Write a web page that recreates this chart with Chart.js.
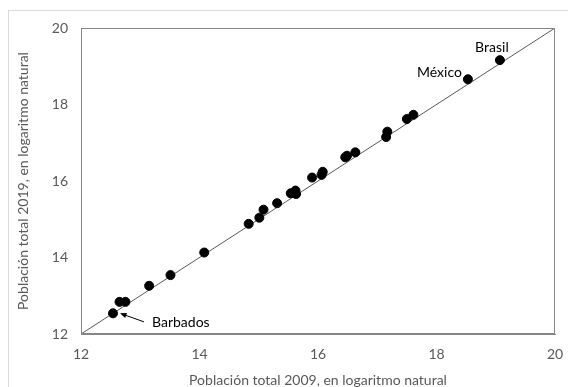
<!DOCTYPE html>
<html>
<head>
<meta charset="utf-8">
<script src="https://cdn.jsdelivr.net/npm/chart.js@4"></script>
<style>
    html, body { margin: 0; padding: 0; background: #fff; overflow: hidden; }
    #wrap { position: relative; width: 568px; height: 387px; }
    #frame { position: absolute; left: 8px; top: 10px; width: 600px; height: 420px; border: 1px solid #d9d9d9; }
    canvas { position: absolute; left: 0; top: 0; }
</style>
</head>
<body>
<div id="wrap">
    <div id="frame"></div>
    <canvas id="chart" width="568" height="387"></canvas>
</div>
<script>
// ln(poblacion total) por pais
const pop2009 = [12.54, 12.65, 12.75, 13.15, 13.51, 14.08, 14.83, 15.01, 15.08, 15.31,
                 15.54, 15.62, 15.63, 15.90, 16.06, 16.08, 16.46, 16.49, 16.63, 17.15,
                 17.17, 17.50, 17.61, 18.53, 19.07];
const pop2019 = [12.54, 12.84, 12.84, 13.26, 13.54, 14.13, 14.88, 15.04, 15.25, 15.42,
                 15.68, 15.75, 15.66, 16.09, 16.16, 16.24, 16.62, 16.66, 16.75, 17.15,
                 17.29, 17.62, 17.73, 18.66, 19.16];
const countryLabels = ["Barbados", "", "", "", "", "", "", "", "", "",
                       "", "", "", "", "", "", "", "", "", "",
                       "", "", "", "México", "Brasil"];
const refLine = [12, 20];
const axisTicks = [12, 14, 16, 18, 20];

const font = "Lato";
const grey = "#595959";

const points = pop2009.map((x, i) => ({ x, y: pop2019[i] }));

// marco completo del area de trazado
const frameBox = {
    id: "frameBox",
    afterDatasetsDraw(chart) {
        const { ctx, chartArea: a } = chart;
        ctx.save();
        ctx.strokeStyle = "#868686";
        ctx.lineWidth = 1;
        ctx.strokeRect(a.left + 0.5, a.top + 0.5, a.right - a.left - 1, a.bottom - a.top - 1);
        ctx.restore();
    }
};

// etiquetas de paises
const countryNames = {
    id: "countryNames",
    afterDatasetsDraw(chart) {
        const { ctx, scales } = chart;
        ctx.save();
        ctx.font = "14px " + font;
        ctx.fillStyle = "#000";
        ctx.textBaseline = "middle";
        points.forEach((p, i) => {
            const name = countryLabels[i];
            if (!name) return;
            const px = scales.x.getPixelForValue(p.x);
            const py = scales.y.getPixelForValue(p.y);
            if (name === "Brasil") {
                ctx.textAlign = "center";
                ctx.fillText(name, px - 8, py - 13);
            } else if (name === "México") {
                ctx.textAlign = "right";
                ctx.fillText(name, px - 6, py - 7);
            } else {
                ctx.textAlign = "left";
                ctx.fillText(name, px + 39, py + 9);
                // flecha
                const x0 = px + 31, y0 = py + 8.5, x1 = px + 7, y1 = py;
                ctx.strokeStyle = "#000";
                ctx.lineWidth = 1;
                ctx.beginPath();
                ctx.moveTo(x0, y0);
                ctx.lineTo(x1 + 3, y1 + 1);
                ctx.stroke();
                const ang = Math.atan2(y0 - y1, x0 - x1);
                ctx.beginPath();
                ctx.moveTo(x1, y1);
                ctx.lineTo(x1 + 7 * Math.cos(ang - 0.4), y1 + 7 * Math.sin(ang - 0.4));
                ctx.lineTo(x1 + 7 * Math.cos(ang + 0.4), y1 + 7 * Math.sin(ang + 0.4));
                ctx.closePath();
                ctx.fill();
            }
        });
        ctx.restore();
    }
};

new Chart(document.getElementById("chart"), {
    type: "scatter",
    data: {
        datasets: [
            {
                data: points,
                backgroundColor: "#000",
                borderColor: "#000",
                pointRadius: 4.5,
                pointHoverRadius: 4.5,
                order: 1
            },
            {
                type: "line",
                data: refLine.map(v => ({ x: v, y: v })),
                borderColor: grey,
                borderWidth: 1,
                pointRadius: 0,
                fill: false,
                order: 2
            }
        ]
    },
    options: {
        responsive: false,
        animation: false,
        layout: { padding: { left: 0, top: 28, right: 13, bottom: 0 } },
        plugins: { legend: { display: false }, tooltip: { enabled: false } },
        scales: {
            x: {
                type: "linear",
                min: 12,
                max: 20,
                afterBuildTicks: s => { s.ticks = axisTicks.map(v => ({ value: v })); },
                afterFit: s => { s.height = 53; s.paddingLeft = 0; s.paddingRight = 0; },
                grid: { display: false, drawTicks: false },
                border: { display: true, color: "#868686" },
                ticks: { padding: 12, color: grey, font: { family: font, size: 14 } },
                title: {
                    display: true,
                    text: "Población total 2009, en logaritmo natural",
                    color: grey,
                    font: { family: font, size: 14, lineHeight: 1 },
                    padding: { top: 0, bottom: 0 }
                }
            },
            y: {
                type: "linear",
                min: 12,
                max: 20,
                afterBuildTicks: s => { s.ticks = axisTicks.map(v => ({ value: v })); },
                afterFit: s => { s.width = 81; s.paddingTop = 0; s.paddingBottom = 0; },
                grid: { display: false, drawTicks: false },
                border: { display: true, color: "#868686" },
                ticks: { padding: 13, color: grey, font: { family: font, size: 14 } },
                title: {
                    display: true,
                    text: "Población total 2019, en logaritmo natural",
                    color: grey,
                    font: { family: font, size: 14, lineHeight: 1 },
                    padding: { top: 16, bottom: 0 }
                }
            }
        }
    },
    plugins: [frameBox, countryNames]
});
</script>
</body>
</html>
